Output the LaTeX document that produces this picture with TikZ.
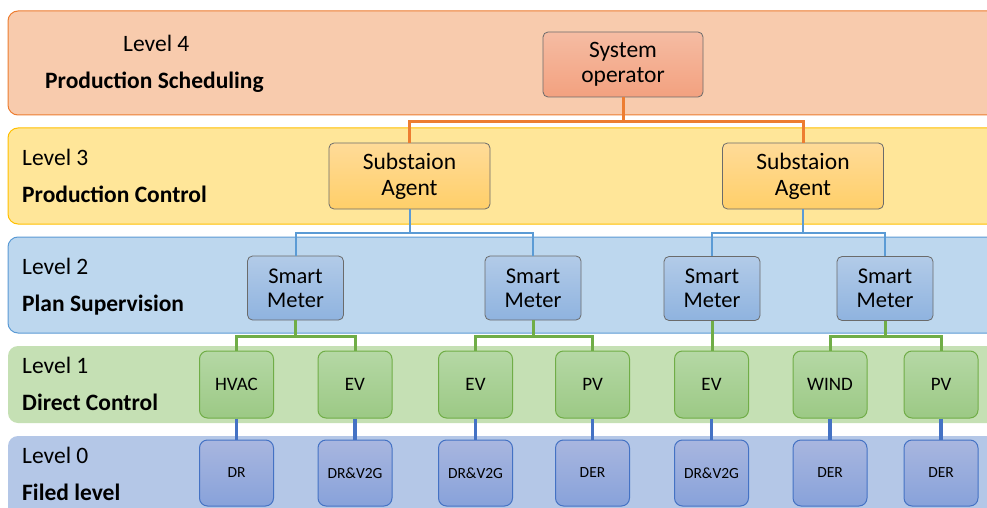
\documentclass[tikz,border=0pt]{standalone}
\usepackage{fontspec}
\setmainfont{Carlito}
\definecolor{bfourfill}{HTML}{F8CBAD}
\definecolor{bfourline}{HTML}{ED7D31}
\definecolor{bthreefill}{HTML}{FFE699}
\definecolor{bthreeline}{HTML}{FFC000}
\definecolor{btwofill}{HTML}{BDD7EE}
\definecolor{btwoline}{HTML}{5B9BD5}
\definecolor{bonefill}{HTML}{C5E0B4}
\definecolor{bzerofill}{HTML}{B4C7E7}
\definecolor{grn}{HTML}{70AD47}
\definecolor{dblue}{HTML}{4472C4}
\definecolor{boxline}{HTML}{6B6B6B}
\definecolor{sotop}{HTML}{F5BCA3}
\definecolor{sobot}{HTML}{F3A17F}
\definecolor{satop}{HTML}{FFDB98}
\definecolor{sabot}{HTML}{FFCF69}
\definecolor{smtop}{HTML}{B2CBE8}
\definecolor{smbot}{HTML}{8FB3DF}
\definecolor{onetop}{HTML}{B5D8A5}
\definecolor{onebot}{HTML}{9CC985}
\definecolor{zerotop}{HTML}{A8B6DF}
\definecolor{zerobot}{HTML}{88A2DA}
\begin{document}
\begin{tikzpicture}[x=1pt,y=-1pt,
  lvltext/.style={anchor=base west,inner sep=0pt,font=\fontsize{23.5}{25}\selectfont},
  lvlbold/.style={anchor=base west,inner sep=0pt,font=\fontsize{23.5}{25}\selectfont\bfseries},
  sobox/.style={draw=boxline,line width=0.8pt,rounded corners=5pt,top color=sotop,bottom color=sobot,
     minimum width=160pt,minimum height=65pt,inner sep=0pt,align=center,font=\fontsize{23.5}{25}\selectfont},
  sabox/.style={draw=boxline,line width=0.8pt,rounded corners=5pt,top color=satop,bottom color=sabot,
     minimum width=161pt,minimum height=66pt,inner sep=0pt,align=center,font=\fontsize{23.5}{26}\selectfont},
  smbox/.style={draw=boxline,line width=0.8pt,rounded corners=5pt,top color=smtop,bottom color=smbot,
     minimum width=96pt,minimum height=64pt,inner sep=0pt,align=center,font=\fontsize{22.5}{24}\selectfont},
  onebox/.style={draw=grn,line width=1pt,rounded corners=8pt,top color=onetop,bottom color=onebot,
     minimum width=74pt,minimum height=67pt,inner sep=0pt,align=center,font=\fontsize{19}{20}\selectfont},
  zerobox/.style={draw=dblue,line width=1pt,rounded corners=8pt,top color=zerotop,bottom color=zerobot,
     minimum width=74pt,minimum height=66pt,inner sep=0pt,align=center,font=\fontsize{15.5}{18}\selectfont},
  orline/.style={draw=bfourline,line width=3pt},
  blline/.style={draw=btwoline,line width=2pt},
  grline/.style={draw=grn,line width=3pt},
  dbline/.style={draw=dblue,line width=3.5pt}
]
\useasboundingbox[fill=white] (0,0) rectangle (987,508);
% bands
\draw[fill=bfourfill,draw=bfourline,line width=1pt,rounded corners=10pt] (8,11) rectangle (1010,115);
\draw[fill=bthreefill,draw=bthreeline,line width=1pt,rounded corners=10pt] (8,128) rectangle (1010,224);
\draw[fill=btwofill,draw=btwoline,line width=1pt,rounded corners=10pt] (8,237) rectangle (1010,333);
\fill[bonefill,rounded corners=10pt] (8,346) rectangle (1010,423);
\fill[bzerofill,rounded corners=10pt] (8,436) rectangle (1010,530);
% level labels
\node[lvltext] (l4a) at (123,52) {Level 4};
\node[lvlbold] (l4b) at (45,89) {Production Scheduling};
\node[lvltext] (l3a) at (22,165) {Level 3};
\node[lvlbold] (l3b) at (22,202) {Production Control};
\node[lvltext] (l2a) at (22,274) {Level 2};
\node[lvlbold] (l2b) at (22,311) {Plan Supervision};
\node[lvltext] (l1a) at (22,373) {Level 1};
\node[lvlbold] (l1b) at (22,410) {Direct Control};
\node[lvltext] (l0a) at (22,463) {Level 0};
\node[lvlbold] (l0b) at (22,500) {Filed level};
% nodes
\node[sobox] (so) at (623,64.5) {System\\operator};
\node[sabox] (sa1) at (409.5,176) {Substaion\\Agent};
\node[sabox] (sa2) at (803,176) {Substaion\\Agent};
\node[smbox] (sm1) at (295.5,288) {Smart\\Meter};
\node[smbox] (sm2) at (533,288) {Smart\\Meter};
\node[smbox] (sm3) at (712,288.5) {Smart\\Meter};
\node[smbox] (sm4) at (885,288.5) {Smart\\Meter};
\node[onebox] (a1) at (236.5,384.5) {HVAC};
\node[onebox] (a2) at (355,384.5) {EV};
\node[onebox] (a3) at (475.5,384.5) {EV};
\node[onebox] (a4) at (592.5,384.5) {PV};
\node[onebox] (a5) at (711.5,384.5) {EV};
\node[onebox] (a6) at (830,384.5) {WIND};
\node[onebox] (a7) at (941,384.5) {PV};
\node[zerobox] (b1) at (236.5,473) {DR};
\node[zerobox] (b2) at (355,473) {DR\&V2G};
\node[zerobox] (b3) at (475.5,473) {DR\&V2G};
\node[zerobox] (b4) at (592.5,473) {DER};
\node[zerobox] (b5) at (711.5,473) {DR\&V2G};
\node[zerobox] (b6) at (830,473) {DER};
\node[zerobox] (b7) at (941,473) {DER};
% connectors
\draw[orline] (so.south) -- ++(0,24) -| (sa1.north);
\draw[orline] (so.south) -- ++(0,24) -| (sa2.north);
\draw[blline] (sa1.south) -- ++(0,24) -| (sm1.north);
\draw[blline] (sa1.south) -- ++(0,24) -| (sm2.north);
\draw[blline] (sa2.south) -- ++(0,24) -| (sm3.north);
\draw[blline] (sa2.south) -- ++(0,24) -| (sm4.north);
\draw[grline] (sm1.south) -- ++(0,16) -| (a1.north);
\draw[grline] (sm1.south) -- ++(0,16) -| (a2.north);
\draw[grline] (sm2.south) -- ++(0,16) -| (a3.north);
\draw[grline] (sm2.south) -- ++(0,16) -| (a4.north);
\draw[grline] (sm3.south) -- (sm3.south |- a5.north);
\draw[grline] (sm4.south) -- ++(0,16) -| (a6.north);
\draw[grline] (sm4.south) -- ++(0,16) -| (a7.north);
\foreach \i in {1,...,7} {\draw[dbline] (a\i.south) -- (b\i.north);}
\end{tikzpicture}
\end{document}
